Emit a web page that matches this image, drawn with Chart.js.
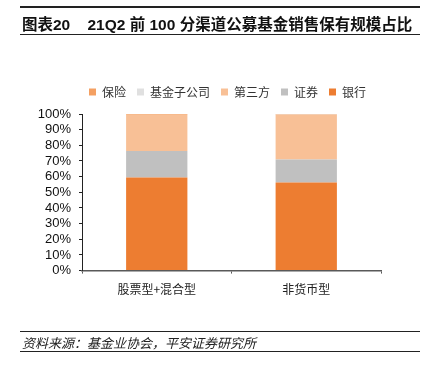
<!DOCTYPE html>
<html>
<head>
<meta charset="utf-8">
<script src="https://cdn.jsdelivr.net/npm/chart.js@4"></script>
<style>
  body { margin: 0; background: #fff; }
  #wrap { position: relative; width: 422px; height: 370px; font-family: "Liberation Sans", "Noto Sans CJK SC", sans-serif; }
  #chart { position: absolute; left: 0; top: 0; }
  .rule { position: absolute; left: 20px; width: 400px; background: #222; }
  #title { position: absolute; left: 22px; top: 12px; font-size: 15.5px; font-weight: bold; color: #111; white-space: pre; }
  #source { position: absolute; left: 22px; top: 333px; font-size: 13px; font-style: italic; color: #222; }
</style>
</head>
<body>
<div id="wrap">
  <canvas id="chart" width="422" height="370"></canvas>
  <div class="rule" style="top:6px;height:2px"></div>
  <div id="title">图表20    21Q2 前 100 分渠道公募基金销售保有规模占比</div>
  <div class="rule" style="top:34px;height:1px"></div>
  <div class="rule" style="top:331px;height:1px"></div>
  <div id="source">资料来源：基金业协会，平安证券研究所</div>
  <div class="rule" style="top:351px;height:1px"></div>
</div>
<script>
var categories = ['股票型+混合型', '非货币型'];
var bank = [59.4, 56.2];
var securities = [16.9, 14.8];
var thirdParty = [23.2, 28.6];
var fundSub = [0.1, 0.1];
var insurance = [0.4, 0.3];
var yTicks = [0, 10, 20, 30, 40, 50, 60, 70, 80, 90, 100];

// extra room under the legend, and nudge it right so it sits over the plot
var legendTweak = {
    id: 'legendTweak',
    beforeInit: function (chart) {
        var fit = chart.legend.fit;
        chart.legend.fit = function () {
            fit.bind(chart.legend)();
            this.height += 6;
        };
    },
    afterLayout: function (chart) {
        chart.legend.left += 27;
        chart.legend.right += 27;
    }
};

var ctx = document.getElementById('chart').getContext('2d');
var chart = new Chart(ctx, {
    type: 'bar',
    data: {
        labels: categories,
        datasets: [
            { label: '银行', data: bank, backgroundColor: '#ED7D31' },
            { label: '证券', data: securities, backgroundColor: '#C0C0C0' },
            { label: '第三方', data: thirdParty, backgroundColor: '#F8C096' },
            { label: '基金子公司', data: fundSub, backgroundColor: '#E0E0E0' },
            { label: '保险', data: insurance, backgroundColor: '#F4A062' }
        ]
    },
    options: {
        responsive: false,
        animation: false,
        layout: { padding: { top: 75, left: 20, right: 41, bottom: 64 } },
        datasets: { bar: { categoryPercentage: 1, barPercentage: 0.41 } },
        plugins: {
            title: { display: false },
            tooltip: { enabled: false },
            legend: {
                position: 'top',
                reverse: true,
                labels: {
                    boxWidth: 7,
                    boxHeight: 7,
                    padding: 11,
                    color: '#333',
                    font: { size: 12, family: 'Noto Sans CJK SC' }
                }
            }
        },
        scales: {
            x: {
                stacked: true,
                border: { color: '#595959', width: 1.5 },
                grid: { drawOnChartArea: false, tickLength: 3, color: '#595959' },
                ticks: { color: '#222', font: { size: 12, family: 'Noto Sans CJK SC' }, padding: 9 }
            },
            y: {
                stacked: true,
                min: 0,
                max: 100,
                afterBuildTicks: function (scale) {
                    scale.ticks = yTicks.map(function (v) { return { value: v }; });
                },
                afterFit: function (scale) { scale.width = 62; },
                border: { color: '#222', width: 1 },
                grid: { drawOnChartArea: false, tickLength: 3, color: '#222' },
                ticks: {
                    autoSkip: false,
                    color: '#111',
                    padding: 8,
                    font: { size: 13, family: 'Liberation Sans' },
                    callback: function (v) { return v + '%'; }
                }
            }
        }
    },
    plugins: [legendTweak]
});
</script>
</body>
</html>
